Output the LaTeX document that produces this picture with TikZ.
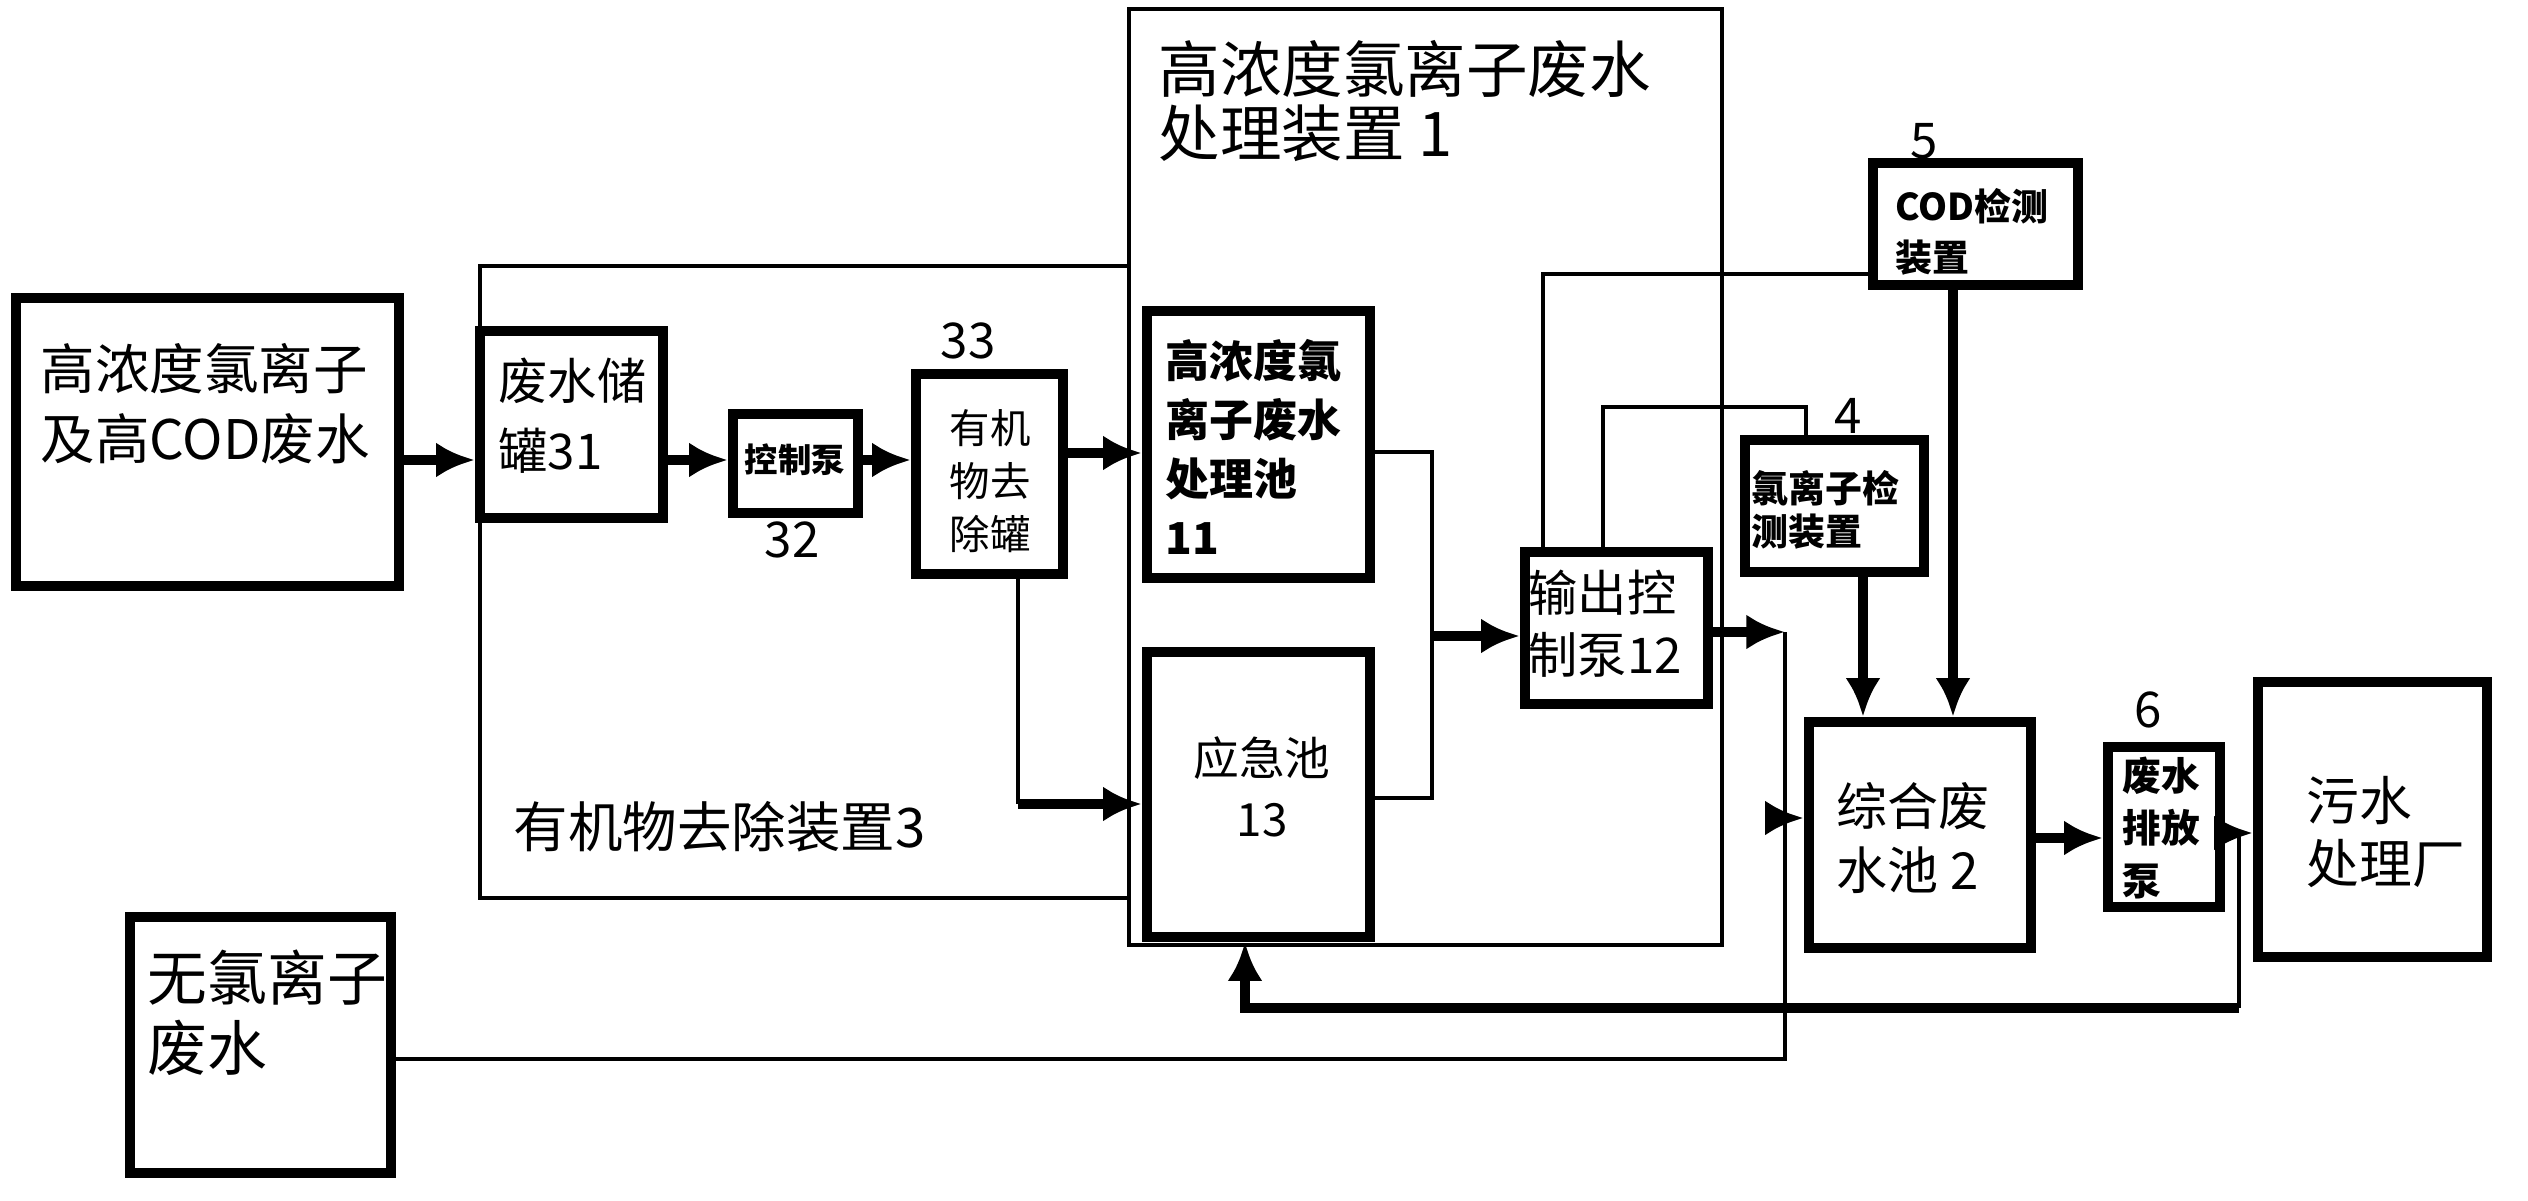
\documentclass[tikz,border=0pt]{standalone}
\usepackage{fontspec}
\setmainfont{Noto Sans CJK SC}
\usetikzlibrary{arrows.meta}
\usetikzlibrary{fit}

\newcommand\fsA{\fontsize{15.5pt}{20pt}\selectfont}
\newcommand\fsT{\fontsize{17.5pt}{18pt}\selectfont}
\newcommand\fsB{\fontsize{14pt}{18pt}\selectfont}
\newcommand\fsS{\bfseries\fontsize{10.5pt}{14.5pt}\selectfont}

\begin{document}
\begin{tikzpicture}[x=0.01cm,y=-0.01cm,
  tank/.style={draw,line width=3pt,inner sep=0pt},
  frame/.style={draw,line width=1.2pt,inner sep=0pt},
  pipe/.style={line width=3pt,-{Latex[length=11pt,width=10pt]}},
  wire/.style={line width=1.1pt},
  txt/.style={anchor=west,align=left,inner sep=0pt},
  num/.style={font=\fsB,inner sep=0pt}]
\useasboundingbox (0,0) rectangle (2528,1200);

% outer frames
\node [frame,fit={(480,266) (1129,898)}] (organic) {};
\node [frame,fit={(1129,9) (1722,945)}] (hclunit) {};
\node [txt,font=\fsA] (organiclbl) at (513,827) {有机物去除装置3};
\node [txt,font=\fsT] (hclunitlbl) at (1158,101) {高浓度氯离子废水\\处理装置 1};

% boxes
\node [tank,fit={(16,298) (399,586)}] (srcA) {};
\node [txt,font=\fsA] (srcAlbl) at (40,404) {高浓度氯离子\\及高COD废水};
\node [tank,fit={(130,917) (391,1173)}] (srcB) {};
\node [txt,font=\fontsize{17pt}{20pt}\selectfont] (srcBlbl) at (147,1013) {无氯离子\\废水};
\node [tank,fit={(480,331) (663,518)}] (store31) {};
\node [txt,font=\fontsize{14pt}{20pt}\selectfont] (store31lbl) at (498,416) {废水储\\罐31};
\node [tank,fit={(733,414) (858,513)}] (pump32) {};
\node [font=\bfseries\fontsize{9.5pt}{11pt}\selectfont,inner sep=0pt] (pump32lbl) at (795,460) {控制泵};
\node [tank,fit={(916,374) (1063,574)}] (tank33) {};
\node [align=center,inner sep=0pt,font=\fontsize{11.5pt}{15pt}\selectfont] (tank33lbl) at (990,481) {有机\\物去\\除罐};
\node [tank,fit={(1147,311) (1370,578)}] (pool11) {};
\node [txt,font=\bfseries\fontsize{12.5pt}{16.7pt}\selectfont] (pool11lbl) at (1165,447) {高浓度氯\\离子废水\\处理池\\11};
\node [tank,fit={(1147,652) (1370,937)}] (pool13) {};
\node [align=center,inner sep=0pt,font=\fontsize{13pt}{17.4pt}\selectfont] (pool13lbl) at (1262,787) {应急池\\13};
\node [tank,fit={(1525,552) (1708,704)}] (pump12) {};
\node [txt,font=\fontsize{14pt}{17.6pt}\selectfont] (pump12lbl) at (1528,624) {输出控\\制泵12};
\node [tank,fit={(1873,163) (2078,285)}] (cod5) {};
\node [txt,font=\fsS] (cod5lbl) at (1895,232) {COD检测\\装置};
\node [tank,fit={(1745,440) (1924,572)}] (cl4) {};
\node [txt,font=\bfseries\fontsize{10.5pt}{12.2pt}\selectfont] (cl4lbl) at (1751,510) {氯离子检\\测装置};
\node [tank,fit={(1809,722) (2031,948)}] (pool2) {};
\node [txt,font=\fontsize{14.5pt}{18pt}\selectfont] (pool2lbl) at (1836,838) {综合废\\水池 2};
\node [tank,fit={(2108,747) (2220,907)}] (pump6) {};
\node [txt,font=\bfseries\fontsize{11pt}{14.8pt}\selectfont] (pump6lbl) at (2122,828) {废水\\排放\\泵};
\node [tank,fit={(2258,682) (2487,957)}] (plant) {};
\node [txt,font=\fontsize{15pt}{18pt}\selectfont] (plantlbl) at (2306,832) {污水\\处理厂};

% numbers
\node [num] (n33) at (968,341) {33};
\node [num] (n32) at (792,540) {32};
\node [num] (n5) at (1924,141) {5};
\node [num] (n4) at (1848,416) {4};
\node [num] (n6) at (2148,710) {6};

% junctions
\coordinate (j33) at (1018,804);
\coordinate (jmix) at (1432,636);
\coordinate (jout) at (1785,632);
\coordinate (jlow) at (1785,1059);
\coordinate (jplant) at (2239,833);
\coordinate (jback) at (2239,1008);
\coordinate (jcorner) at (1245,1008);

% pipes
\draw [pipe] (srcA.east |- 0,460) -- (store31.west |- 0,460);
\draw [pipe] (store31.east |- 0,460) -- (pump32.west |- 0,460);
\draw [pipe] (pump32.east |- 0,460) -- (tank33.west |- 0,460);
\draw [pipe] (tank33.east |- 0,453) -- (pool11.west |- 0,453);
\draw [wire] (tank33.south -| j33) -- (j33);
\draw [pipe] (j33) -- (pool13.west |- j33);
\draw [wire] (pool11.east |- 0,452) -| (jmix);
\draw [wire] (pool13.east |- 0,798) -| (jmix);
\draw [pipe] (jmix) -- (pump12.west |- jmix);
\draw [pipe] (pump12.east |- jout) -- (jout);
\draw [wire] (jout) -- (jlow) -- (srcB.east |- jlow);
\draw [pipe] (jout |- 0,818) -- (pool2.west |- 0,818);
\draw [pipe] (cl4.south -| 1863,0) -- (pool2.north -| 1863,0);
\draw [pipe] (cod5.south -| 1953,0) -- (pool2.north -| 1953,0);
\draw [pipe] (pool2.east |- 0,838) -- (pump6.west |- 0,838);
\draw [pipe] (pump6.east |- jplant) -- (plant.west |- jplant);
\draw [wire] (jplant) -- (jback);
\draw [pipe] (jback) -- (jcorner) -- (pool13.south -| jcorner);

% signal lines
\draw [wire] (pump12.north -| 1603,0) |- (1806,407) -- (cl4.north -| 1806,0);
\draw [wire] (pump12.north -| 1543,0) |- (cod5.west |- 0,274);

\end{tikzpicture}
\end{document}
